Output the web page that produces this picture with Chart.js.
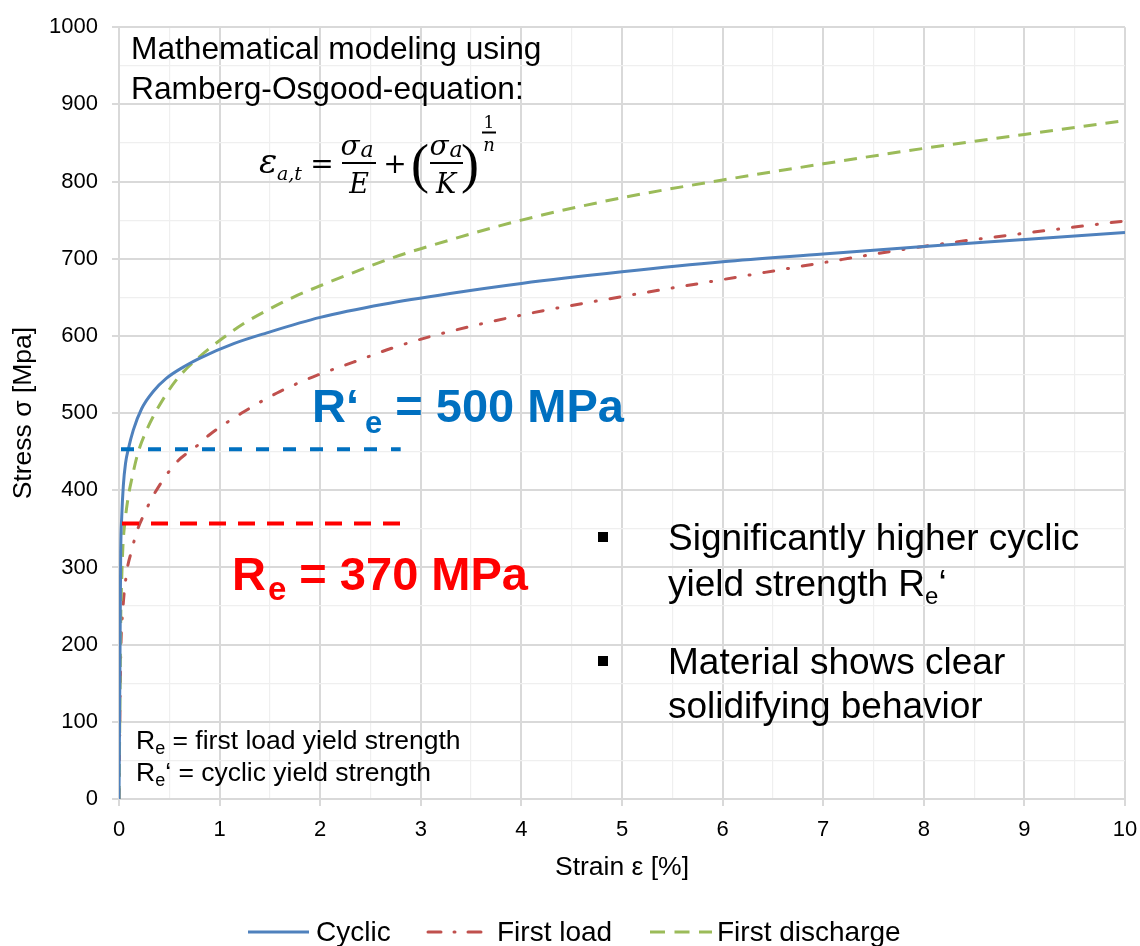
<!DOCTYPE html>
<html><head><meta charset="utf-8">
<script src="https://cdn.jsdelivr.net/npm/chart.js@4.4.0/dist/chart.umd.min.js"></script>
<style>html,body{margin:0;padding:0;background:#fff;} canvas{display:block;}</style>
</head><body>
<canvas id="c" width="1140" height="946" style="width:1140px;height:946px"></canvas>
<script>
// ---- data ----
const cyclicStrain = [0, 0.006, 0.012, 0.017, 0.027, 0.043, 0.065, 0.092, 0.142, 0.226, 0.34, 0.47, 0.67, 0.8, 1.14, 1.47, 2.0, 2.63, 3.29, 4, 5, 6, 7, 8, 9, 10];
const cyclicStress = [0, 110, 230, 320, 365, 406, 435, 453, 478, 506, 528, 545, 562, 571, 590, 604, 624, 641, 655, 668, 683, 696, 706, 716, 725, 734];

const firstLoadStrain = [0, 0.005, 0.01, 0.017, 0.037, 0.077, 0.126, 0.176, 0.275, 0.34, 0.57, 0.77, 0.89, 1.22, 1.57, 1.93, 2.33, 2.71, 3.09, 4, 5, 6, 7, 8, 9, 10];
const firstLoadStress = [0, 60, 120, 187, 243, 294, 322, 346, 376, 393, 436, 457, 471, 500, 526, 547, 566, 584, 599, 627, 651, 673, 695, 716, 733, 749];

const firstDischargeStrain = [0, 0.01, 0.017, 0.027, 0.04, 0.06, 0.09, 0.126, 0.19, 0.275, 0.375, 0.57, 0.8, 1.0, 1.24, 1.47, 1.73, 2.0, 2.33, 2.69, 3, 4, 5, 6, 7, 8, 9, 10];
const firstDischargeStress = [0, 130, 230, 285, 330, 360, 390, 414, 449, 478, 504, 543, 573, 594, 616, 633, 650, 665, 682, 700, 713, 750, 779, 802, 823, 843, 861, 879];

const cyclicYieldLineStrain = [0.02, 2.8];
const cyclicYieldLineStress = [453, 453];
const firstYieldLineStrain = [0.03, 2.81];
const firstYieldLineStress = [357, 357];

const seriesNames = ['Cyclic', 'First load', 'First discharge'];
const xTickMin = 0, xTickMax = 10, xMinorStep = 0.5;
const yTickMin = 0, yTickMax = 1000, yMinorStep = 50;

const pts = (xs, ys) => xs.map((x, i) => ({x: x, y: ys[i]}));
const SANS = "'Liberation Sans', Arial, sans-serif";

// legend layout (line start x, line length, text x)
const legendSlots = [[248, 61, 316], [428, 56, 497], [650, 62, 717]];

const annot = {
  id: 'annot',
  afterDraw(chart) {
    const ctx = chart.ctx;
    ctx.save();
    ctx.textAlign = 'left';
    ctx.textBaseline = 'alphabetic';
    const runs = (x, y, parts) => {
      let cx = x;
      for (const p of parts) {
        ctx.font = p.f;
        ctx.fillStyle = p.c || '#000';
        ctx.fillText(p.t, cx, y + (p.dy || 0));
        cx += ctx.measureText(p.t).width + (p.dx || 0);
      }
    };
    // heading
    ctx.fillStyle = '#000';
    ctx.font = '31.7px ' + SANS;
    ctx.fillText('Mathematical modeling using', 131, 59);
    ctx.fillText('Ramberg-Osgood-equation:', 131, 99);

    // formula
    const it = (s) => 'italic ' + s + "px 'DejaVu Serif'";
    const ctext = (t, x, y, f) => { ctx.font = f; ctx.textAlign = 'center'; ctx.fillText(t, x, y); ctx.textAlign = 'left'; };
    ctext('\u03b5', 268, 173, it(34));
    ctx.font = it(19); ctx.fillText('a,t', 277, 180);
    ctext('=', 322, 173, "28px 'DejaVu Serif'");
    ctext('\u03c3', 350, 155, it(28));
    ctext('a', 367, 157, it(22));
    ctext('E', 359, 193, it(27));
    ctext('+', 395, 173, "28px 'DejaVu Serif'");
    ctext('(', 420, 182, "54px 'Liberation Serif'");
    ctext('\u03c3', 439, 155, it(28));
    ctext('a', 456, 157, it(22));
    ctext('K', 446, 193, it(27));
    ctext(')', 470, 182, "54px 'Liberation Serif'");
    ctext('1', 489, 128, "17px 'DejaVu Serif'");
    ctext('n', 489, 151, it(18));
    ctx.strokeStyle = '#000';
    ctx.lineWidth = 2;
    ctx.beginPath();
    ctx.moveTo(342, 163); ctx.lineTo(376, 163);
    ctx.moveTo(430, 163); ctx.lineTo(463, 163);
    ctx.moveTo(482, 132.5); ctx.lineTo(496, 132.5);
    ctx.stroke();

    // big labels
    const B = (s) => 'bold ' + s + 'px ' + SANS;
    runs(312, 422, [
      {t: 'R\u2018', f: B(47), c: '#0070c0', dx: 6},
      {t: 'e', f: B(31), c: '#0070c0', dy: 11},
      {t: ' = 500 MPa', f: B(47), c: '#0070c0'}
    ]);
    runs(232, 590, [
      {t: 'R', f: B(47), c: '#ff0000', dx: 2},
      {t: 'e', f: B(33), c: '#ff0000', dy: 10},
      {t: ' = 370 MPa', f: B(47), c: '#ff0000'}
    ]);

    // bullets
    ctx.fillStyle = '#000';
    ctx.fillRect(598, 532, 10, 10);
    ctx.fillRect(598, 656, 10, 10);
    ctx.font = '37px ' + SANS;
    ctx.fillText('Significantly higher cyclic', 668, 550);
    runs(668, 596, [
      {t: 'yield strength R', f: '37px ' + SANS},
      {t: 'e', f: '24px ' + SANS, dy: 8},
      {t: '\u2018', f: '37px ' + SANS}
    ]);
    ctx.font = '37px ' + SANS;
    ctx.fillStyle = '#000';
    ctx.fillText('Material shows clear', 668, 674);
    ctx.fillText('solidifying behavior', 668, 718);

    // note
    runs(136, 749, [
      {t: 'R', f: '26.5px ' + SANS},
      {t: 'e', f: '18px ' + SANS, dy: 5},
      {t: ' = first load yield strength', f: '26.5px ' + SANS}
    ]);
    runs(136, 781, [
      {t: 'R', f: '26.5px ' + SANS},
      {t: 'e', f: '18px ' + SANS, dy: 5},
      {t: '\u2018 = cyclic yield strength', f: '26.5px ' + SANS}
    ]);

    // legend (styles taken from the datasets)
    const ly = 932;
    seriesNames.forEach((name, i) => {
      const ds = chart.data.datasets[i];
      const [lx, len, tx] = legendSlots[i];
      ctx.save();
      ctx.strokeStyle = ds.borderColor;
      ctx.lineWidth = ds.borderWidth;
      ctx.lineCap = ds.borderCapStyle || 'butt';
      ctx.setLineDash(ds.legendDash || ds.borderDash || []);
      ctx.beginPath();
      ctx.moveTo(lx, ly); ctx.lineTo(lx + len, ly);
      ctx.stroke();
      ctx.restore();
      ctx.fillStyle = '#000';
      ctx.font = '28px ' + SANS;
      ctx.textBaseline = 'middle';
      ctx.fillText(ds.label, tx, ly + 1);
      ctx.textBaseline = 'alphabetic';
    });
    ctx.restore();
  }
};

const isMajorX = (v) => Math.abs(v - Math.round(v)) < 1e-6;
const isMajorY = (v) => Math.abs(v / 100 - Math.round(v / 100)) < 1e-6;

const cfg = {
  type: 'scatter',
  data: {
    datasets: [
      {label: seriesNames[0], data: pts(cyclicStrain, cyclicStress), showLine: true, borderColor: '#4f81bd', backgroundColor: '#4f81bd', borderWidth: 3, pointRadius: 0, cubicInterpolationMode: 'monotone', order: 3},
      {label: seriesNames[1], data: pts(firstLoadStrain, firstLoadStress), showLine: true, borderColor: '#c0504d', backgroundColor: '#c0504d', borderWidth: 3, borderDash: [10, 14, 1, 14], legendDash: [13, 13, 1, 13], borderCapStyle: 'round', pointRadius: 0, cubicInterpolationMode: 'monotone', order: 5},
      {label: seriesNames[2], data: pts(firstDischargeStrain, firstDischargeStress), showLine: true, borderColor: '#9bbb59', backgroundColor: '#9bbb59', borderWidth: 3, borderDash: [13, 9], legendDash: [15, 9.5], pointRadius: 0, cubicInterpolationMode: 'monotone', order: 4},
      {label: 'cyclicYield', data: pts(cyclicYieldLineStrain, cyclicYieldLineStress), showLine: true, borderColor: '#0070c0', borderWidth: 4, borderDash: [13, 14], pointRadius: 0, order: 1},
      {label: 'firstYield', data: pts(firstYieldLineStrain, firstYieldLineStress), showLine: true, borderColor: '#ff0000', borderWidth: 4, borderDash: [17, 12], pointRadius: 0, order: 2}
    ]
  },
  options: {
    responsive: false,
    animation: false,
    devicePixelRatio: 1,
    layout: {padding: {left: 0, right: 15, top: 21, bottom: 55}},
    plugins: {
      tooltip: {enabled: false},
      legend: {display: false}
    },
    scales: {
      x: {
        type: 'linear', min: xTickMin, max: xTickMax,
        afterFit: (s) => { s.height = 92; s.paddingLeft = 0; s.paddingRight = 0; },
        ticks: {stepSize: xMinorStep, autoSkip: false, maxRotation: 0, color: '#000', font: {family: SANS, size: 22}, padding: 11,
          callback: (v) => isMajorX(v) ? String(Math.round(v)) : ''},
        grid: {color: (c) => isMajorX(c.tick.value) ? '#d9d9d9' : '#efefef', lineWidth: (c) => isMajorX(c.tick.value) ? 2 : 1.2,
          tickLength: 7, tickColor: (c) => isMajorX(c.tick.value) ? '#d9d9d9' : 'rgba(0,0,0,0)'},
        border: {color: '#d9d9d9', width: 2},
        title: {display: true, text: 'Strain \u03b5 [%]', color: '#000', font: {family: SANS, size: 26.5}, padding: {top: 4, bottom: 7}}
      },
      y: {
        type: 'linear', min: yTickMin, max: yTickMax,
        afterFit: (s) => { s.width = 119; },
        ticks: {stepSize: yMinorStep, autoSkip: false, color: '#000', font: {family: SANS, size: 22}, padding: 14,
          callback: (v) => isMajorY(v) ? String(Math.round(v)) : ''},
        grid: {color: (c) => isMajorY(c.tick.value) ? '#d9d9d9' : '#efefef', lineWidth: (c) => isMajorY(c.tick.value) ? 2 : 1.2,
          tickLength: 7, tickColor: (c) => isMajorY(c.tick.value) ? '#d9d9d9' : 'rgba(0,0,0,0)'},
        border: {color: '#d9d9d9', width: 2},
        title: {display: true, text: 'Stress \u03c3 [Mpa]', color: '#000', font: {family: SANS, size: 26.5}, padding: {top: 8, bottom: 8}}
      }
    }
  },
  plugins: [annot]
};

const chart = new Chart(document.getElementById('c'), cfg);
const target = {left: 119, top: 21, right: 1125, bottom: 799};
let pad = Object.assign({}, cfg.options.layout.padding);
for (let k = 0; k < 4; k++) {
  const ca = chart.chartArea;
  const dl = target.left - ca.left, dt = target.top - ca.top;
  const dr = ca.right - target.right, db = ca.bottom - target.bottom;
  if (Math.abs(dl) + Math.abs(dt) + Math.abs(dr) + Math.abs(db) < 0.5) break;
  pad = {left: pad.left + dl, top: pad.top + dt, right: pad.right + dr, bottom: pad.bottom + db};
  chart.options.layout.padding = Object.assign({}, pad);
  chart.update();
}
</script>
</body></html>
